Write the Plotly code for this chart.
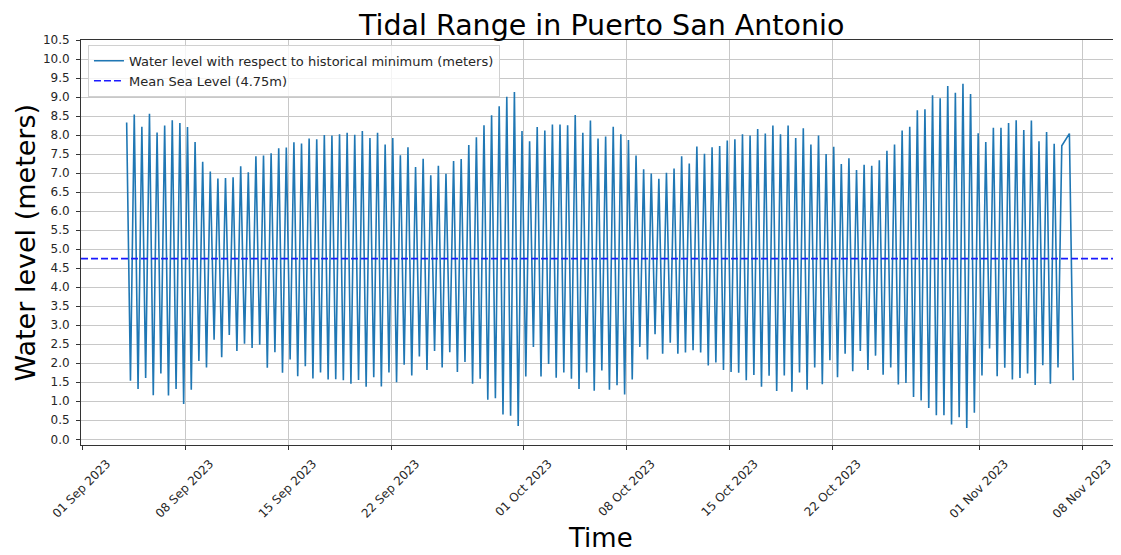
import pandas as pd
import plotly.graph_objects as go

# ---- data ----
first_high_time = "2023-09-04 00:50"
step = "6h12min"          # interval between successive high / low tides

high_tides = [
    8.33, 8.54, 8.22, 8.56, 8.07, 8.25, 8.39, 8.32, 8.21,
    7.82, 7.30, 7.04, 6.86, 6.87, 6.89, 7.18, 7.02, 7.44, 7.46, 7.52,
    7.65, 7.67, 7.81, 7.78, 7.91, 7.89, 8.00, 7.99, 8.02, 8.06,
    8.01, 8.11, 7.92, 8.06, 7.75, 7.92, 7.47, 7.68, 7.16, 7.38,
    6.94, 7.19, 6.98, 7.32, 7.37, 7.74, 7.94, 8.26, 8.52, 8.76,
    9.01, 9.13, 8.11, 7.84, 8.21, 8.12, 8.28, 8.28, 8.26, 8.53,
    8.06, 8.38, 7.91, 7.96, 8.22, 8.02, 7.87, 7.46, 7.10, 6.99,
    6.85, 7.01, 7.12, 7.44, 7.25, 7.70, 7.51, 7.68, 7.71, 7.86,
    7.89, 8.02, 7.99, 8.16, 8.04, 8.25, 8.02, 8.25, 7.92, 8.18,
    7.75, 7.99, 7.50, 7.69, 7.24, 7.39, 7.08, 7.22, 7.19, 7.34,
    7.59, 7.75, 8.12, 8.22, 8.65, 8.68, 9.05, 8.97, 9.29, 9.11,
    9.35, 9.08, 8.05, 7.82, 8.19, 8.19, 8.32, 8.39, 8.13, 8.38,
    7.84, 8.08, 7.77, 7.72, 8.04,
]

# None = low tide missing from the record
low_tides = [
    1.54, 1.32, 1.61, 1.16, 1.73, 1.15, 1.32, 0.93, 1.30,
    2.06, 1.89, 2.62, 2.16, 2.74, 2.32, 2.51, 2.40, 2.49, 1.88, 2.29,
    1.75, 2.10, 1.66, 1.92, 1.60, 1.76, 1.57, 1.58, 1.55, 1.46,
    1.56, 1.38, 1.63, 1.39, 1.76, 1.50, 1.96, 1.68, 2.18, 1.82,
    2.32, 1.89, 2.29, 1.77, 2.03, 1.46, 1.59, 1.04, 1.08, 0.65,
    0.62, 0.35, 1.65, 2.43, 1.65, 1.98, 1.62, 1.76, 1.59, 1.32,
    1.76, 1.28, 1.81, 1.30, 1.42, 1.18, 1.57, 2.43, 2.10, 2.76,
    2.25, 2.54, 2.25, 2.28, 2.34, 2.28, 1.94, 2.02, 1.82, 1.77,
    1.75, 1.55, 1.69, 1.38, 1.67, 1.27, 1.68, 1.25, 1.76, 1.30,
    1.89, 1.45, 2.08, 1.63, 2.25, 1.79, 2.32, 1.82, 2.20, 1.70,
    1.89, 1.44, 1.48, 1.11, 1.02, 0.82, 0.63, 0.63, 0.39, 0.58,
    0.30, 0.70, 1.68, 2.39, 1.66, 1.88, 1.57, 1.61, 1.73, 1.43,
    1.95, 1.46, 1.89, None, 1.55,
]

mean_sea_level = 4.75

x_tick_dates = ["2023-09-01", "2023-09-08", "2023-09-15", "2023-09-22",
                "2023-10-01", "2023-10-08", "2023-10-15", "2023-10-22",
                "2023-11-01", "2023-11-08"]
x_limits = ["2023-08-31 22:22", "2023-11-10 12:58"]
y_limits = [-0.15, 10.5]

# ---- build the alternating high/low series ----
levels = []
for h, l in zip(high_tides, low_tides):
    levels.append(h)
    levels.append(l)
times = pd.date_range(start=first_high_time, periods=len(levels), freq=step)
series = pd.DataFrame({"time": times, "level": levels}).dropna()

FONT = "DejaVu Sans"

fig = go.Figure()
fig.add_trace(go.Scatter(
    x=series["time"], y=series["level"], mode="lines",
    line=dict(color="#1f77b4", width=1.6),
    name="Water level with respect to historical minimum (meters)",
))
fig.add_trace(go.Scatter(
    x=[pd.Timestamp(x_limits[0]), pd.Timestamp(x_limits[1])],
    y=[mean_sea_level, mean_sea_level], mode="lines",
    line=dict(color="#1a1aff", width=1.6, dash="7px,3px"),
    name="Mean Sea Level (4.75m)",
))

# the page body adds an 8 px offset, so the figure is 8 px smaller on each side
fig.update_layout(
    width=1113, height=547,
    margin=dict(l=73, r=1, t=32, b=110, autoexpand=False),
    paper_bgcolor="white", plot_bgcolor="white",
    font=dict(family=FONT, size=12, color="#262626"),
    showlegend=True,
    legend=dict(
        x=0.0067, y=0.988, xanchor="left", yanchor="top",
        bgcolor="rgba(255,255,255,0.8)", bordercolor="#d0d0d0", borderwidth=1,
        font=dict(family=FONT, size=13, color="#262626"),
        tracegroupgap=0, itemwidth=30,
    ),
    annotations=[
        dict(text="Tidal Range in Puerto San Antonio", xref="paper", yref="paper",
             x=0.5, y=1, yshift=15, xanchor="center", yanchor="middle",
             showarrow=False, font=dict(family=FONT, size=28.5, color="black")),
        dict(text="Time", xref="paper", yref="paper", x=0.5, y=0, yshift=-93,
             xanchor="center", yanchor="middle", showarrow=False,
             font=dict(family=FONT, size=26, color="black")),
        dict(text="Water level (meters)", xref="paper", yref="paper", x=0, y=0.5,
             xshift=-56, xanchor="center", yanchor="middle", textangle=-90,
             showarrow=False, font=dict(family=FONT, size=27, color="black")),
    ],
)

fig.update_xaxes(
    type="date", range=x_limits,
    tickvals=x_tick_dates, tickformat="%d %b %Y", tickangle=-45,
    ticks="outside", ticklen=4, tickcolor="#333", tickwidth=1,
    ticklabelshift=25, ticklabelstandoff=2,
    showgrid=True, gridcolor="#c8c8c8", gridwidth=1,
    showline=True, linecolor="#333", linewidth=1, mirror=True,
    zeroline=False,
    tickfont=dict(family=FONT, size=12, color="#262626"),
)
fig.update_yaxes(
    range=y_limits, tick0=0, dtick=0.5, tickformat=".1f",
    ticks="outside", ticklen=4, tickcolor="#333", tickwidth=1,
    ticklabelstandoff=4,
    showgrid=True, gridcolor="#c8c8c8", gridwidth=1,
    showline=True, linecolor="#333", linewidth=1, mirror=True,
    zeroline=False,
    tickfont=dict(family=FONT, size=12, color="#262626"),
)

fig.write_html("out.html")
